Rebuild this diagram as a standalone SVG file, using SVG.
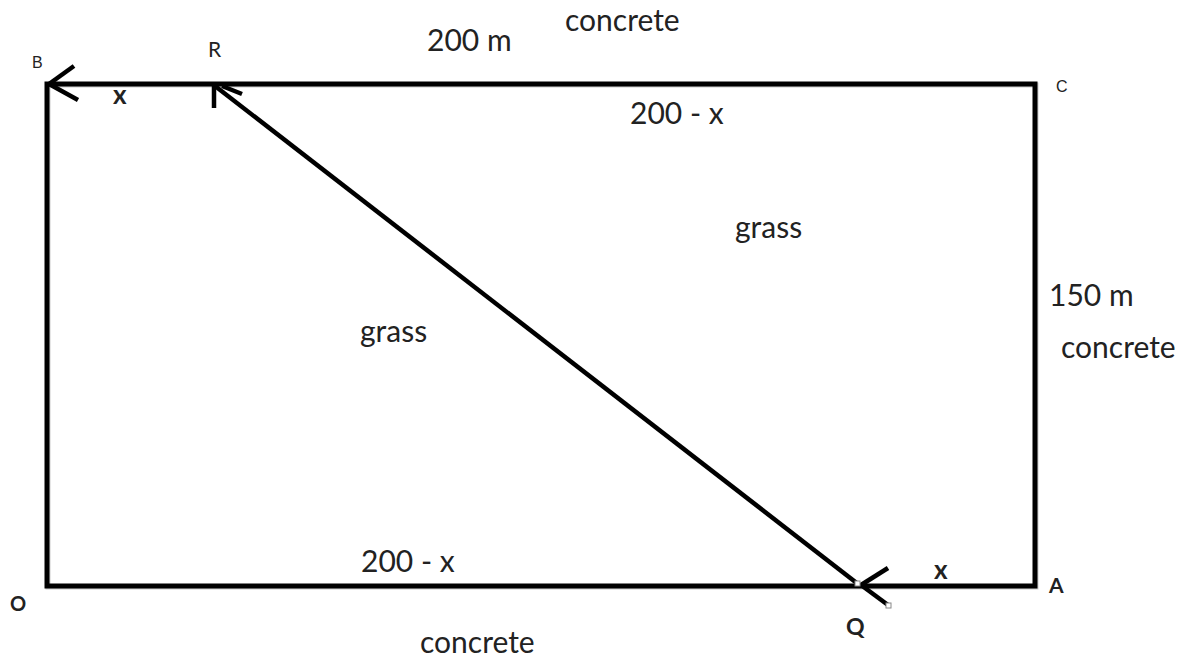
<svg xmlns="http://www.w3.org/2000/svg" width="1190" height="661" viewBox="0 0 1190 661">
<style>
.ln{stroke:#000;stroke-width:5;fill:none;stroke-linecap:square}
.ar{stroke:#000;stroke-width:4.5;fill:none;stroke-linecap:butt}
.t{font-family:Lato,"Open Sans",sans-serif;fill:#222;font-size:30px}
.s{font-family:"Liberation Sans",Arial,sans-serif;fill:#222;font-size:16px}
.m{font-family:Lato,"Open Sans",sans-serif;fill:#222;font-size:21px}
.b{font-family:Lato,"Open Sans",sans-serif;fill:#222;font-size:21px;font-weight:bold}
.x{font-family:Lato,"Open Sans",sans-serif;fill:#222;font-size:26px;font-weight:bold}
.h{fill:#fff;stroke:#888;stroke-width:1}
</style>
<rect width="1190" height="661" fill="#fff"/>
<g id="field">
<path d="M48 85 H1036 V587 H48 Z" style="stroke:#ccc;stroke-width:5;fill:none"/>
<path class="ln" d="M47 84 H1035 V586 H47 Z"/>
</g>
<g id="connectors">
<line class="ar" x1="858" y1="584" x2="215" y2="86"/>
<line class="ar" x1="214" y1="84" x2="214" y2="108"/>
<line class="ar" x1="222" y1="86" x2="242" y2="94"/>
<line class="ar" x1="49" y1="84" x2="74" y2="66"/>
<line class="ar" x1="49" y1="84" x2="78" y2="100"/>
<line class="ar" x1="861" y1="585" x2="888" y2="568"/>
<line class="ar" x1="861" y1="585" x2="888" y2="605"/>
<rect class="h" x="855" y="581" width="5" height="5"/>
<rect class="h" x="886" y="603" width="5" height="5"/>
</g>
<g id="labels">
<text class="t" x="427" y="51">200 m</text>
<text class="t" x="565" y="31">concrete</text>
<text class="s" x="32" y="68">B</text>
<text class="m" x="208" y="57">R</text>
<text class="x" x="113" y="104">x</text>
<text class="s" x="1056" y="92">C</text>
<text class="t" x="630" y="124">200 - x</text>
<text class="t" x="735" y="238">grass</text>
<text class="t" x="1049" y="306">150 m</text>
<text class="t" x="1061" y="358">concrete</text>
<text class="t" x="360" y="342">grass</text>
<text class="t" x="361" y="572">200 - x</text>
<text class="x" x="934" y="579">x</text>
<text class="b" x="1049" y="593">A</text>
<text class="b" x="10" y="611" style="font-size:20px">O</text>
<text class="b" x="846" y="635" style="font-size:23px">Q</text>
<text class="t" x="420" y="653">concrete</text>
</g>
</svg>
